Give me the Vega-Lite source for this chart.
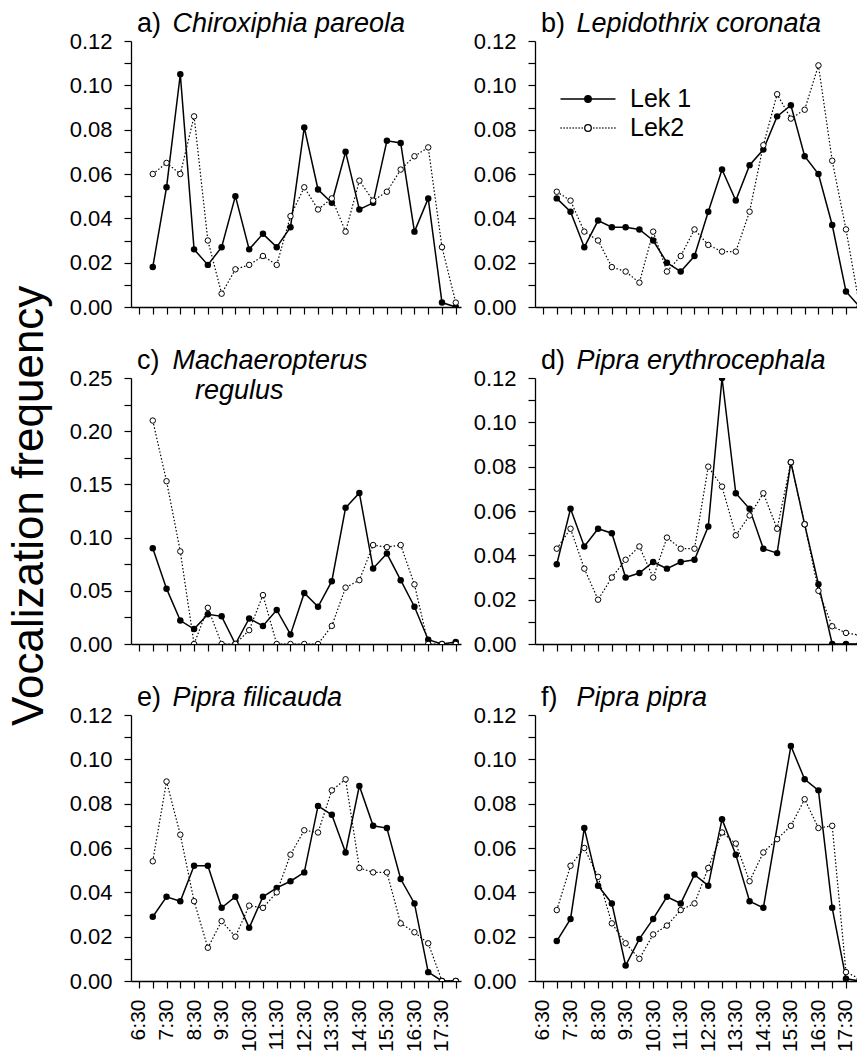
{
"$schema": "https://vega.github.io/schema/vega-lite/v6.json",
"padding": {"left": 8, "top": 10, "right": 0, "bottom": 0},
"title": {"text": "Vocalization frequency", "orient": "left", "anchor": "middle", "frame": "bounds", "fontSize": 44, "font": "Liberation Sans", "fontWeight": "normal", "color": "black", "offset": 17, "dx": 25},
"data": {"values": [
{"panel":"a","lek":"Lek 1","time":7,"freq":0.018},{"panel":"a","lek":"Lek 1","time":7.5,"freq":0.054},{"panel":"a","lek":"Lek 1","time":8,"freq":0.105},{"panel":"a","lek":"Lek 1","time":8.5,"freq":0.026},{"panel":"a","lek":"Lek 1","time":9,"freq":0.019},{"panel":"a","lek":"Lek 1","time":9.5,"freq":0.027},{"panel":"a","lek":"Lek 1","time":10,"freq":0.050},{"panel":"a","lek":"Lek 1","time":10.5,"freq":0.026},{"panel":"a","lek":"Lek 1","time":11,"freq":0.033},{"panel":"a","lek":"Lek 1","time":11.5,"freq":0.027},{"panel":"a","lek":"Lek 1","time":12,"freq":0.036},{"panel":"a","lek":"Lek 1","time":12.5,"freq":0.081},{"panel":"a","lek":"Lek 1","time":13,"freq":0.053},{"panel":"a","lek":"Lek 1","time":13.5,"freq":0.047},{"panel":"a","lek":"Lek 1","time":14,"freq":0.070},{"panel":"a","lek":"Lek 1","time":14.5,"freq":0.044},{"panel":"a","lek":"Lek 1","time":15,"freq":0.047},{"panel":"a","lek":"Lek 1","time":15.5,"freq":0.075},{"panel":"a","lek":"Lek 1","time":16,"freq":0.074},{"panel":"a","lek":"Lek 1","time":16.5,"freq":0.034},{"panel":"a","lek":"Lek 1","time":17,"freq":0.049},{"panel":"a","lek":"Lek 1","time":17.5,"freq":0.002},{"panel":"a","lek":"Lek 1","time":18,"freq":0.000},
{"panel":"a","lek":"Lek2","time":7,"freq":0.060},{"panel":"a","lek":"Lek2","time":7.5,"freq":0.065},{"panel":"a","lek":"Lek2","time":8,"freq":0.060},{"panel":"a","lek":"Lek2","time":8.5,"freq":0.086},{"panel":"a","lek":"Lek2","time":9,"freq":0.030},{"panel":"a","lek":"Lek2","time":9.5,"freq":0.006},{"panel":"a","lek":"Lek2","time":10,"freq":0.017},{"panel":"a","lek":"Lek2","time":10.5,"freq":0.019},{"panel":"a","lek":"Lek2","time":11,"freq":0.023},{"panel":"a","lek":"Lek2","time":11.5,"freq":0.019},{"panel":"a","lek":"Lek2","time":12,"freq":0.041},{"panel":"a","lek":"Lek2","time":12.5,"freq":0.054},{"panel":"a","lek":"Lek2","time":13,"freq":0.044},{"panel":"a","lek":"Lek2","time":13.5,"freq":0.049},{"panel":"a","lek":"Lek2","time":14,"freq":0.034},{"panel":"a","lek":"Lek2","time":14.5,"freq":0.057},{"panel":"a","lek":"Lek2","time":15,"freq":0.048},{"panel":"a","lek":"Lek2","time":15.5,"freq":0.052},{"panel":"a","lek":"Lek2","time":16,"freq":0.062},{"panel":"a","lek":"Lek2","time":16.5,"freq":0.068},{"panel":"a","lek":"Lek2","time":17,"freq":0.072},{"panel":"a","lek":"Lek2","time":17.5,"freq":0.027},{"panel":"a","lek":"Lek2","time":18,"freq":0.002},
{"panel":"b","lek":"Lek 1","time":7,"freq":0.049},{"panel":"b","lek":"Lek 1","time":7.5,"freq":0.043},{"panel":"b","lek":"Lek 1","time":8,"freq":0.027},{"panel":"b","lek":"Lek 1","time":8.5,"freq":0.039},{"panel":"b","lek":"Lek 1","time":9,"freq":0.036},{"panel":"b","lek":"Lek 1","time":9.5,"freq":0.036},{"panel":"b","lek":"Lek 1","time":10,"freq":0.035},{"panel":"b","lek":"Lek 1","time":10.5,"freq":0.030},{"panel":"b","lek":"Lek 1","time":11,"freq":0.020},{"panel":"b","lek":"Lek 1","time":11.5,"freq":0.016},{"panel":"b","lek":"Lek 1","time":12,"freq":0.023},{"panel":"b","lek":"Lek 1","time":12.5,"freq":0.043},{"panel":"b","lek":"Lek 1","time":13,"freq":0.062},{"panel":"b","lek":"Lek 1","time":13.5,"freq":0.048},{"panel":"b","lek":"Lek 1","time":14,"freq":0.064},{"panel":"b","lek":"Lek 1","time":14.5,"freq":0.071},{"panel":"b","lek":"Lek 1","time":15,"freq":0.086},{"panel":"b","lek":"Lek 1","time":15.5,"freq":0.091},{"panel":"b","lek":"Lek 1","time":16,"freq":0.068},{"panel":"b","lek":"Lek 1","time":16.5,"freq":0.060},{"panel":"b","lek":"Lek 1","time":17,"freq":0.037},{"panel":"b","lek":"Lek 1","time":17.5,"freq":0.007},{"panel":"b","lek":"Lek 1","time":18,"freq":0.000},
{"panel":"b","lek":"Lek2","time":7,"freq":0.052},{"panel":"b","lek":"Lek2","time":7.5,"freq":0.048},{"panel":"b","lek":"Lek2","time":8,"freq":0.034},{"panel":"b","lek":"Lek2","time":8.5,"freq":0.030},{"panel":"b","lek":"Lek2","time":9,"freq":0.018},{"panel":"b","lek":"Lek2","time":9.5,"freq":0.016},{"panel":"b","lek":"Lek2","time":10,"freq":0.011},{"panel":"b","lek":"Lek2","time":10.5,"freq":0.034},{"panel":"b","lek":"Lek2","time":11,"freq":0.016},{"panel":"b","lek":"Lek2","time":11.5,"freq":0.023},{"panel":"b","lek":"Lek2","time":12,"freq":0.035},{"panel":"b","lek":"Lek2","time":12.5,"freq":0.028},{"panel":"b","lek":"Lek2","time":13,"freq":0.025},{"panel":"b","lek":"Lek2","time":13.5,"freq":0.025},{"panel":"b","lek":"Lek2","time":14,"freq":0.043},{"panel":"b","lek":"Lek2","time":14.5,"freq":0.073},{"panel":"b","lek":"Lek2","time":15,"freq":0.096},{"panel":"b","lek":"Lek2","time":15.5,"freq":0.085},{"panel":"b","lek":"Lek2","time":16,"freq":0.089},{"panel":"b","lek":"Lek2","time":16.5,"freq":0.109},{"panel":"b","lek":"Lek2","time":17,"freq":0.066},{"panel":"b","lek":"Lek2","time":17.5,"freq":0.035},{"panel":"b","lek":"Lek2","time":18,"freq":0.000},
{"panel":"c","lek":"Lek 1","time":7,"freq":0.090},{"panel":"c","lek":"Lek 1","time":7.5,"freq":0.052},{"panel":"c","lek":"Lek 1","time":8,"freq":0.022},{"panel":"c","lek":"Lek 1","time":8.5,"freq":0.014},{"panel":"c","lek":"Lek 1","time":9,"freq":0.028},{"panel":"c","lek":"Lek 1","time":9.5,"freq":0.026},{"panel":"c","lek":"Lek 1","time":10,"freq":0.000},{"panel":"c","lek":"Lek 1","time":10.5,"freq":0.024},{"panel":"c","lek":"Lek 1","time":11,"freq":0.017},{"panel":"c","lek":"Lek 1","time":11.5,"freq":0.032},{"panel":"c","lek":"Lek 1","time":12,"freq":0.009},{"panel":"c","lek":"Lek 1","time":12.5,"freq":0.048},{"panel":"c","lek":"Lek 1","time":13,"freq":0.035},{"panel":"c","lek":"Lek 1","time":13.5,"freq":0.059},{"panel":"c","lek":"Lek 1","time":14,"freq":0.128},{"panel":"c","lek":"Lek 1","time":14.5,"freq":0.142},{"panel":"c","lek":"Lek 1","time":15,"freq":0.071},{"panel":"c","lek":"Lek 1","time":15.5,"freq":0.085},{"panel":"c","lek":"Lek 1","time":16,"freq":0.060},{"panel":"c","lek":"Lek 1","time":16.5,"freq":0.035},{"panel":"c","lek":"Lek 1","time":17,"freq":0.004},{"panel":"c","lek":"Lek 1","time":17.5,"freq":0.000},{"panel":"c","lek":"Lek 1","time":18,"freq":0.002},
{"panel":"c","lek":"Lek2","time":7,"freq":0.210},{"panel":"c","lek":"Lek2","time":7.5,"freq":0.153},{"panel":"c","lek":"Lek2","time":8,"freq":0.087},{"panel":"c","lek":"Lek2","time":8.5,"freq":0.000},{"panel":"c","lek":"Lek2","time":9,"freq":0.034},{"panel":"c","lek":"Lek2","time":9.5,"freq":0.000},{"panel":"c","lek":"Lek2","time":10,"freq":0.000},{"panel":"c","lek":"Lek2","time":10.5,"freq":0.013},{"panel":"c","lek":"Lek2","time":11,"freq":0.046},{"panel":"c","lek":"Lek2","time":11.5,"freq":0.000},{"panel":"c","lek":"Lek2","time":12,"freq":0.000},{"panel":"c","lek":"Lek2","time":12.5,"freq":0.000},{"panel":"c","lek":"Lek2","time":13,"freq":0.000},{"panel":"c","lek":"Lek2","time":13.5,"freq":0.017},{"panel":"c","lek":"Lek2","time":14,"freq":0.053},{"panel":"c","lek":"Lek2","time":14.5,"freq":0.060},{"panel":"c","lek":"Lek2","time":15,"freq":0.093},{"panel":"c","lek":"Lek2","time":15.5,"freq":0.091},{"panel":"c","lek":"Lek2","time":16,"freq":0.093},{"panel":"c","lek":"Lek2","time":16.5,"freq":0.056},{"panel":"c","lek":"Lek2","time":17,"freq":0.000},{"panel":"c","lek":"Lek2","time":17.5,"freq":0.000},{"panel":"c","lek":"Lek2","time":18,"freq":0.000},
{"panel":"d","lek":"Lek 1","time":7,"freq":0.036},{"panel":"d","lek":"Lek 1","time":7.5,"freq":0.061},{"panel":"d","lek":"Lek 1","time":8,"freq":0.044},{"panel":"d","lek":"Lek 1","time":8.5,"freq":0.052},{"panel":"d","lek":"Lek 1","time":9,"freq":0.050},{"panel":"d","lek":"Lek 1","time":9.5,"freq":0.030},{"panel":"d","lek":"Lek 1","time":10,"freq":0.032},{"panel":"d","lek":"Lek 1","time":10.5,"freq":0.037},{"panel":"d","lek":"Lek 1","time":11,"freq":0.034},{"panel":"d","lek":"Lek 1","time":11.5,"freq":0.037},{"panel":"d","lek":"Lek 1","time":12,"freq":0.038},{"panel":"d","lek":"Lek 1","time":12.5,"freq":0.053},{"panel":"d","lek":"Lek 1","time":13,"freq":0.120},{"panel":"d","lek":"Lek 1","time":13.5,"freq":0.068},{"panel":"d","lek":"Lek 1","time":14,"freq":0.061},{"panel":"d","lek":"Lek 1","time":14.5,"freq":0.043},{"panel":"d","lek":"Lek 1","time":15,"freq":0.041},{"panel":"d","lek":"Lek 1","time":15.5,"freq":0.082},{"panel":"d","lek":"Lek 1","time":16,"freq":0.054},{"panel":"d","lek":"Lek 1","time":16.5,"freq":0.027},{"panel":"d","lek":"Lek 1","time":17,"freq":0.000},{"panel":"d","lek":"Lek 1","time":17.5,"freq":0.000},{"panel":"d","lek":"Lek 1","time":18,"freq":0.000},
{"panel":"d","lek":"Lek2","time":7,"freq":0.043},{"panel":"d","lek":"Lek2","time":7.5,"freq":0.052},{"panel":"d","lek":"Lek2","time":8,"freq":0.034},{"panel":"d","lek":"Lek2","time":8.5,"freq":0.020},{"panel":"d","lek":"Lek2","time":9,"freq":0.030},{"panel":"d","lek":"Lek2","time":9.5,"freq":0.038},{"panel":"d","lek":"Lek2","time":10,"freq":0.044},{"panel":"d","lek":"Lek2","time":10.5,"freq":0.030},{"panel":"d","lek":"Lek2","time":11,"freq":0.048},{"panel":"d","lek":"Lek2","time":11.5,"freq":0.043},{"panel":"d","lek":"Lek2","time":12,"freq":0.043},{"panel":"d","lek":"Lek2","time":12.5,"freq":0.080},{"panel":"d","lek":"Lek2","time":13,"freq":0.071},{"panel":"d","lek":"Lek2","time":13.5,"freq":0.049},{"panel":"d","lek":"Lek2","time":14,"freq":0.058},{"panel":"d","lek":"Lek2","time":14.5,"freq":0.068},{"panel":"d","lek":"Lek2","time":15,"freq":0.052},{"panel":"d","lek":"Lek2","time":15.5,"freq":0.082},{"panel":"d","lek":"Lek2","time":16,"freq":0.054},{"panel":"d","lek":"Lek2","time":16.5,"freq":0.024},{"panel":"d","lek":"Lek2","time":17,"freq":0.008},{"panel":"d","lek":"Lek2","time":17.5,"freq":0.005},{"panel":"d","lek":"Lek2","time":18,"freq":0.004},
{"panel":"e","lek":"Lek 1","time":7,"freq":0.029},{"panel":"e","lek":"Lek 1","time":7.5,"freq":0.038},{"panel":"e","lek":"Lek 1","time":8,"freq":0.036},{"panel":"e","lek":"Lek 1","time":8.5,"freq":0.052},{"panel":"e","lek":"Lek 1","time":9,"freq":0.052},{"panel":"e","lek":"Lek 1","time":9.5,"freq":0.033},{"panel":"e","lek":"Lek 1","time":10,"freq":0.038},{"panel":"e","lek":"Lek 1","time":10.5,"freq":0.024},{"panel":"e","lek":"Lek 1","time":11,"freq":0.038},{"panel":"e","lek":"Lek 1","time":11.5,"freq":0.042},{"panel":"e","lek":"Lek 1","time":12,"freq":0.045},{"panel":"e","lek":"Lek 1","time":12.5,"freq":0.049},{"panel":"e","lek":"Lek 1","time":13,"freq":0.079},{"panel":"e","lek":"Lek 1","time":13.5,"freq":0.075},{"panel":"e","lek":"Lek 1","time":14,"freq":0.058},{"panel":"e","lek":"Lek 1","time":14.5,"freq":0.088},{"panel":"e","lek":"Lek 1","time":15,"freq":0.070},{"panel":"e","lek":"Lek 1","time":15.5,"freq":0.069},{"panel":"e","lek":"Lek 1","time":16,"freq":0.046},{"panel":"e","lek":"Lek 1","time":16.5,"freq":0.035},{"panel":"e","lek":"Lek 1","time":17,"freq":0.004},{"panel":"e","lek":"Lek 1","time":17.5,"freq":0.000},{"panel":"e","lek":"Lek 1","time":18,"freq":0.000},
{"panel":"e","lek":"Lek2","time":7,"freq":0.054},{"panel":"e","lek":"Lek2","time":7.5,"freq":0.090},{"panel":"e","lek":"Lek2","time":8,"freq":0.066},{"panel":"e","lek":"Lek2","time":8.5,"freq":0.036},{"panel":"e","lek":"Lek2","time":9,"freq":0.015},{"panel":"e","lek":"Lek2","time":9.5,"freq":0.027},{"panel":"e","lek":"Lek2","time":10,"freq":0.020},{"panel":"e","lek":"Lek2","time":10.5,"freq":0.034},{"panel":"e","lek":"Lek2","time":11,"freq":0.033},{"panel":"e","lek":"Lek2","time":11.5,"freq":0.040},{"panel":"e","lek":"Lek2","time":12,"freq":0.057},{"panel":"e","lek":"Lek2","time":12.5,"freq":0.068},{"panel":"e","lek":"Lek2","time":13,"freq":0.067},{"panel":"e","lek":"Lek2","time":13.5,"freq":0.086},{"panel":"e","lek":"Lek2","time":14,"freq":0.091},{"panel":"e","lek":"Lek2","time":14.5,"freq":0.051},{"panel":"e","lek":"Lek2","time":15,"freq":0.049},{"panel":"e","lek":"Lek2","time":15.5,"freq":0.049},{"panel":"e","lek":"Lek2","time":16,"freq":0.026},{"panel":"e","lek":"Lek2","time":16.5,"freq":0.022},{"panel":"e","lek":"Lek2","time":17,"freq":0.017},{"panel":"e","lek":"Lek2","time":17.5,"freq":0.000},{"panel":"e","lek":"Lek2","time":18,"freq":0.000},
{"panel":"f","lek":"Lek 1","time":7,"freq":0.018},{"panel":"f","lek":"Lek 1","time":7.5,"freq":0.028},{"panel":"f","lek":"Lek 1","time":8,"freq":0.069},{"panel":"f","lek":"Lek 1","time":8.5,"freq":0.043},{"panel":"f","lek":"Lek 1","time":9,"freq":0.035},{"panel":"f","lek":"Lek 1","time":9.5,"freq":0.007},{"panel":"f","lek":"Lek 1","time":10,"freq":0.019},{"panel":"f","lek":"Lek 1","time":10.5,"freq":0.028},{"panel":"f","lek":"Lek 1","time":11,"freq":0.038},{"panel":"f","lek":"Lek 1","time":11.5,"freq":0.035},{"panel":"f","lek":"Lek 1","time":12,"freq":0.048},{"panel":"f","lek":"Lek 1","time":12.5,"freq":0.043},{"panel":"f","lek":"Lek 1","time":13,"freq":0.073},{"panel":"f","lek":"Lek 1","time":13.5,"freq":0.057},{"panel":"f","lek":"Lek 1","time":14,"freq":0.036},{"panel":"f","lek":"Lek 1","time":14.5,"freq":0.033},{"panel":"f","lek":"Lek 1","time":15.5,"freq":0.106},{"panel":"f","lek":"Lek 1","time":16,"freq":0.091},{"panel":"f","lek":"Lek 1","time":16.5,"freq":0.086},{"panel":"f","lek":"Lek 1","time":17,"freq":0.033},{"panel":"f","lek":"Lek 1","time":17.5,"freq":0.001},{"panel":"f","lek":"Lek 1","time":18,"freq":0.000},
{"panel":"f","lek":"Lek2","time":7,"freq":0.032},{"panel":"f","lek":"Lek2","time":7.5,"freq":0.052},{"panel":"f","lek":"Lek2","time":8,"freq":0.060},{"panel":"f","lek":"Lek2","time":8.5,"freq":0.047},{"panel":"f","lek":"Lek2","time":9,"freq":0.026},{"panel":"f","lek":"Lek2","time":9.5,"freq":0.017},{"panel":"f","lek":"Lek2","time":10,"freq":0.010},{"panel":"f","lek":"Lek2","time":10.5,"freq":0.021},{"panel":"f","lek":"Lek2","time":11,"freq":0.025},{"panel":"f","lek":"Lek2","time":11.5,"freq":0.032},{"panel":"f","lek":"Lek2","time":12,"freq":0.035},{"panel":"f","lek":"Lek2","time":12.5,"freq":0.051},{"panel":"f","lek":"Lek2","time":13,"freq":0.067},{"panel":"f","lek":"Lek2","time":13.5,"freq":0.062},{"panel":"f","lek":"Lek2","time":14,"freq":0.045},{"panel":"f","lek":"Lek2","time":14.5,"freq":0.058},{"panel":"f","lek":"Lek2","time":15,"freq":0.064},{"panel":"f","lek":"Lek2","time":15.5,"freq":0.070},{"panel":"f","lek":"Lek2","time":16,"freq":0.082},{"panel":"f","lek":"Lek2","time":16.5,"freq":0.069},{"panel":"f","lek":"Lek2","time":17,"freq":0.070},{"panel":"f","lek":"Lek2","time":17.5,"freq":0.004},{"panel":"f","lek":"Lek2","time":18,"freq":0.001}
]},
"columns": 2,
"bounds": "flush",
"spacing": {"row": 71, "column": 74},
"resolve": {"scale": {"shape": "independent", "fill": "independent", "stroke": "independent"}, "legend": {"shape": "independent", "fill": "independent", "stroke": "independent"}},
"concat": [
{
 "width": 330, "height": 266,
 "title": {"text": "a)", "subtitle": "\u200b\u00a0\u00a0\u00a0\u00a0\u2009Chiroxiphia pareola"},
 "transform": [{"filter": "datum.panel === 'a'"}],
 "encoding": {
  "x": {"field": "time", "type": "quantitative", "scale": {"domain": [6.21, 18.19], "nice": false, "zero": false}, "axis": {"title": null, "labels": false, "values": [6.5,7,7.5,8,8.5,9,9.5,10,10.5,11,11.5,12,12.5,13,13.5,14,14.5,15,15.5,16,16.5,17,17.5,18]}},
  "y": {"field": "freq", "type": "quantitative", "scale": {"domain": [0, 0.12], "nice": false}, "axis": {"title": null, "values": [0,0.01,0.02,0.03,0.04,0.05,0.06,0.07,0.08,0.09,0.1,0.11,0.12], "labelExpr": "round(datum.value*100) % 2 === 0 ? format(datum.value, '.2f') : ''"}}
 },
 "layer": [
  {"transform": [{"filter": "datum.lek === 'Lek2'"}], "mark": {"type": "line", "color": "black", "strokeWidth": 1.2, "strokeDash": [1.5, 2], "clip": true}, "encoding": {}},
  {"transform": [{"filter": "datum.lek === 'Lek 1'"}], "mark": {"type": "line", "color": "black", "strokeWidth": 1.5, "clip": true}, "encoding": {}},
  {"transform": [{"filter": "datum.lek === 'Lek 1'"}], "mark": {"type": "point", "shape": "circle", "filled": true, "color": "black", "size": 42, "opacity": 1, "clip": true}, "encoding": {}},
  {"transform": [{"filter": "datum.lek === 'Lek2'"}], "mark": {"type": "point", "shape": "circle", "filled": false, "fill": "white", "stroke": "black", "strokeWidth": 1, "size": 30, "opacity": 1, "clip": true}, "encoding": {}}
 ]
},
{
 "width": 322, "height": 266,
 "title": {"text": "b)", "subtitle": "\u200b\u00a0\u00a0\u00a0\u00a0\u2009Lepidothrix coronata"},
 "transform": [{"filter": "datum.panel === 'b'"}],
 "encoding": {
  "x": {"field": "time", "type": "quantitative", "scale": {"domain": [6.21, 17.9], "nice": false, "zero": false}, "axis": {"title": null, "labels": false, "values": [6.5,7,7.5,8,8.5,9,9.5,10,10.5,11,11.5,12,12.5,13,13.5,14,14.5,15,15.5,16,16.5,17,17.5]}},
  "y": {"field": "freq", "type": "quantitative", "scale": {"domain": [0, 0.12], "nice": false}, "axis": {"title": null, "values": [0,0.01,0.02,0.03,0.04,0.05,0.06,0.07,0.08,0.09,0.1,0.11,0.12], "labelExpr": "round(datum.value*100) % 2 === 0 ? format(datum.value, '.2f') : ''"}}
 },
 "layer": [
  {"transform": [{"filter": "datum.lek === 'Lek2'"}], "mark": {"type": "line", "color": "black", "strokeWidth": 1.2, "strokeDash": [1.5, 2], "clip": true}, "encoding": {}},
  {"transform": [{"filter": "datum.lek === 'Lek 1'"}], "mark": {"type": "line", "color": "black", "strokeWidth": 1.5, "clip": true}, "encoding": {}},
  {"transform": [{"filter": "datum.lek === 'Lek 1'"}], "mark": {"type": "point", "shape": "circle", "filled": true, "color": "black", "size": 42, "opacity": 1, "clip": true}, "encoding": {}},
  {"transform": [{"filter": "datum.lek === 'Lek2'"}], "mark": {"type": "point", "shape": "circle", "filled": false, "fill": "white", "stroke": "black", "strokeWidth": 1, "size": 30, "opacity": 1, "clip": true}, "encoding": {}},
  {"mark": {"type": "point", "filled": true, "opacity": 0, "clip": true},
   "encoding": {
    "shape": {"field": "lek", "type": "nominal", "scale": {"domain": ["Lek 1", "Lek2"], "range": ["M-1.833,0H1.833M0.22,0A0.22,0.22,0,1,1,-0.22,0A0.22,0.22,0,1,1,0.22,0Z", "M-1.833,0H-1.753M-1.633,0H-1.553M-1.433,0H-1.353M-1.233,0H-1.153M-1.033,0H-0.953M-0.833,0H-0.753M-0.633,0H-0.553M-0.433,0H-0.353M0.353,0H0.433M0.553,0H0.633M0.753,0H0.833M0.953,0H1.033M1.153,0H1.233M1.353,0H1.433M1.553,0H1.633M1.753,0H1.833M0.22,0A0.22,0.22,0,1,1,-0.22,0A0.22,0.22,0,1,1,0.22,0Z"]},
      "legend": {"orient": "none", "legendX": 37, "legendY": 42, "title": null}},
    "fill": {"field": "lek", "type": "nominal", "scale": {"domain": ["Lek 1", "Lek2"], "range": ["black", "white"]},
      "legend": {"orient": "none", "legendX": 37, "legendY": 42, "title": null}},
    "stroke": {"field": "lek", "type": "nominal", "scale": {"domain": ["Lek 1", "Lek2"], "range": ["black", "black"]},
      "legend": {"orient": "none", "legendX": 37, "legendY": 42, "title": null}}
   }}
 ]
},
{
 "width": 330, "height": 266,
 "title": {"text": "c)", "subtitle": ["\u200b\u00a0\u00a0\u00a0\u00a0\u2009Machaeropterus", "\u200b\u00a0\u00a0\u00a0\u00a0\u00a0\u00a0\u00a0\u2009regulus"], "offset": -38},
 "transform": [{"filter": "datum.panel === 'c'"}],
 "encoding": {
  "x": {"field": "time", "type": "quantitative", "scale": {"domain": [6.21, 18.19], "nice": false, "zero": false}, "axis": {"title": null, "labels": false, "values": [6.5,7,7.5,8,8.5,9,9.5,10,10.5,11,11.5,12,12.5,13,13.5,14,14.5,15,15.5,16,16.5,17,17.5,18]}},
  "y": {"field": "freq", "type": "quantitative", "scale": {"domain": [0, 0.25], "nice": false}, "axis": {"title": null, "values": [0,0.025,0.05,0.075,0.1,0.125,0.15,0.175,0.2,0.225,0.25], "labelExpr": "round(datum.value*1000) % 50 === 0 ? format(datum.value, '.2f') : ''"}}
 },
 "layer": [
  {"transform": [{"filter": "datum.lek === 'Lek2'"}], "mark": {"type": "line", "color": "black", "strokeWidth": 1.2, "strokeDash": [1.5, 2], "clip": true}, "encoding": {}},
  {"transform": [{"filter": "datum.lek === 'Lek 1'"}], "mark": {"type": "line", "color": "black", "strokeWidth": 1.5, "clip": true}, "encoding": {}},
  {"transform": [{"filter": "datum.lek === 'Lek 1'"}], "mark": {"type": "point", "shape": "circle", "filled": true, "color": "black", "size": 42, "opacity": 1, "clip": true}, "encoding": {}},
  {"transform": [{"filter": "datum.lek === 'Lek2'"}], "mark": {"type": "point", "shape": "circle", "filled": false, "fill": "white", "stroke": "black", "strokeWidth": 1, "size": 30, "opacity": 1, "clip": true}, "encoding": {}}
 ]
},
{
 "width": 322, "height": 266,
 "title": {"text": "d)", "subtitle": "\u200b\u00a0\u00a0\u00a0\u00a0\u2009Pipra erythrocephala"},
 "transform": [{"filter": "datum.panel === 'd'"}],
 "encoding": {
  "x": {"field": "time", "type": "quantitative", "scale": {"domain": [6.21, 17.9], "nice": false, "zero": false}, "axis": {"title": null, "labels": false, "values": [6.5,7,7.5,8,8.5,9,9.5,10,10.5,11,11.5,12,12.5,13,13.5,14,14.5,15,15.5,16,16.5,17,17.5]}},
  "y": {"field": "freq", "type": "quantitative", "scale": {"domain": [0, 0.12], "nice": false}, "axis": {"title": null, "values": [0,0.01,0.02,0.03,0.04,0.05,0.06,0.07,0.08,0.09,0.1,0.11,0.12], "labelExpr": "round(datum.value*100) % 2 === 0 ? format(datum.value, '.2f') : ''"}}
 },
 "layer": [
  {"transform": [{"filter": "datum.lek === 'Lek2'"}], "mark": {"type": "line", "color": "black", "strokeWidth": 1.2, "strokeDash": [1.5, 2], "clip": true}, "encoding": {}},
  {"transform": [{"filter": "datum.lek === 'Lek 1'"}], "mark": {"type": "line", "color": "black", "strokeWidth": 1.5, "clip": true}, "encoding": {}},
  {"transform": [{"filter": "datum.lek === 'Lek 1'"}], "mark": {"type": "point", "shape": "circle", "filled": true, "color": "black", "size": 42, "opacity": 1, "clip": true}, "encoding": {}},
  {"transform": [{"filter": "datum.lek === 'Lek2'"}], "mark": {"type": "point", "shape": "circle", "filled": false, "fill": "white", "stroke": "black", "strokeWidth": 1, "size": 30, "opacity": 1, "clip": true}, "encoding": {}}
 ]
},
{
 "width": 330, "height": 266,
 "title": {"text": "e)", "subtitle": "\u200b\u00a0\u00a0\u00a0\u00a0\u2009Pipra filicauda"},
 "transform": [{"filter": "datum.panel === 'e'"}],
 "encoding": {
  "x": {"field": "time", "type": "quantitative", "scale": {"domain": [6.21, 18.19], "nice": false, "zero": false}, "axis": {"title": null, "labelAngle": 270, "labelAlign": "right", "labelBaseline": "middle", "labelPadding": 11, "labelFontSize": 21, "values": [6.5,7,7.5,8,8.5,9,9.5,10,10.5,11,11.5,12,12.5,13,13.5,14,14.5,15,15.5,16,16.5,17,17.5,18], "labelExpr": "datum.value % 1 === 0.5 ? floor(datum.value) + ':30' : ''"}},
  "y": {"field": "freq", "type": "quantitative", "scale": {"domain": [0, 0.12], "nice": false}, "axis": {"title": null, "values": [0,0.01,0.02,0.03,0.04,0.05,0.06,0.07,0.08,0.09,0.1,0.11,0.12], "labelExpr": "round(datum.value*100) % 2 === 0 ? format(datum.value, '.2f') : ''"}}
 },
 "layer": [
  {"transform": [{"filter": "datum.lek === 'Lek2'"}], "mark": {"type": "line", "color": "black", "strokeWidth": 1.2, "strokeDash": [1.5, 2], "clip": true}, "encoding": {}},
  {"transform": [{"filter": "datum.lek === 'Lek 1'"}], "mark": {"type": "line", "color": "black", "strokeWidth": 1.5, "clip": true}, "encoding": {}},
  {"transform": [{"filter": "datum.lek === 'Lek 1'"}], "mark": {"type": "point", "shape": "circle", "filled": true, "color": "black", "size": 42, "opacity": 1, "clip": true}, "encoding": {}},
  {"transform": [{"filter": "datum.lek === 'Lek2'"}], "mark": {"type": "point", "shape": "circle", "filled": false, "fill": "white", "stroke": "black", "strokeWidth": 1, "size": 30, "opacity": 1, "clip": true}, "encoding": {}}
 ]
},
{
 "width": 322, "height": 266,
 "title": {"text": "f)", "subtitle": "\u200b\u00a0\u00a0\u00a0\u00a0\u2009Pipra pipra"},
 "transform": [{"filter": "datum.panel === 'f'"}],
 "encoding": {
  "x": {"field": "time", "type": "quantitative", "scale": {"domain": [6.21, 17.9], "nice": false, "zero": false}, "axis": {"title": null, "labelAngle": 270, "labelAlign": "right", "labelBaseline": "middle", "labelPadding": 11, "labelFontSize": 21, "values": [6.5,7,7.5,8,8.5,9,9.5,10,10.5,11,11.5,12,12.5,13,13.5,14,14.5,15,15.5,16,16.5,17,17.5], "labelExpr": "datum.value % 1 === 0.5 ? floor(datum.value) + ':30' : ''"}},
  "y": {"field": "freq", "type": "quantitative", "scale": {"domain": [0, 0.12], "nice": false}, "axis": {"title": null, "values": [0,0.01,0.02,0.03,0.04,0.05,0.06,0.07,0.08,0.09,0.1,0.11,0.12], "labelExpr": "round(datum.value*100) % 2 === 0 ? format(datum.value, '.2f') : ''"}}
 },
 "layer": [
  {"transform": [{"filter": "datum.lek === 'Lek2'"}], "mark": {"type": "line", "color": "black", "strokeWidth": 1.2, "strokeDash": [1.5, 2], "clip": true}, "encoding": {}},
  {"transform": [{"filter": "datum.lek === 'Lek 1'"}], "mark": {"type": "line", "color": "black", "strokeWidth": 1.5, "clip": true}, "encoding": {}},
  {"transform": [{"filter": "datum.lek === 'Lek 1'"}], "mark": {"type": "point", "shape": "circle", "filled": true, "color": "black", "size": 42, "opacity": 1, "clip": true}, "encoding": {}},
  {"transform": [{"filter": "datum.lek === 'Lek2'"}], "mark": {"type": "point", "shape": "circle", "filled": false, "fill": "white", "stroke": "black", "strokeWidth": 1, "size": 30, "opacity": 1, "clip": true}, "encoding": {}}
 ]
}
],
"config": {
 "view": {"stroke": null},
 "font": "Liberation Sans",
 "axis": {"domainColor": "black", "domainWidth": 1.3, "tickColor": "black", "tickWidth": 1.2, "tickSize": 7, "labelColor": "black", "labelFont": "Liberation Sans", "labelFontSize": 22, "labelPadding": 12, "grid": false, "labelFlush": false, "labelOverlap": false, "labelBound": false, "titleColor": "black", "titleFont": "Liberation Sans", "titleFontWeight": "normal"},
 "title": {"anchor": "start", "frame": "group", "offset": -8, "font": "Liberation Sans", "fontSize": 27, "fontWeight": "normal", "color": "black", "subtitleFont": "Liberation Sans", "subtitleFontSize": 27, "subtitleFontStyle": "italic", "subtitleColor": "black", "subtitlePadding": -27, "subtitleLineHeight": 30, "dx": 6},
 "legend": {"symbolSize": 900, "symbolStrokeWidth": 1.3, "symbolStrokeColor": "black", "symbolOpacity": 1, "labelFontSize": 25, "labelFont": "Liberation Sans", "labelColor": "black", "labelOffset": 26, "rowPadding": 0, "padding": 0, "labelLimit": 300}
}
}
